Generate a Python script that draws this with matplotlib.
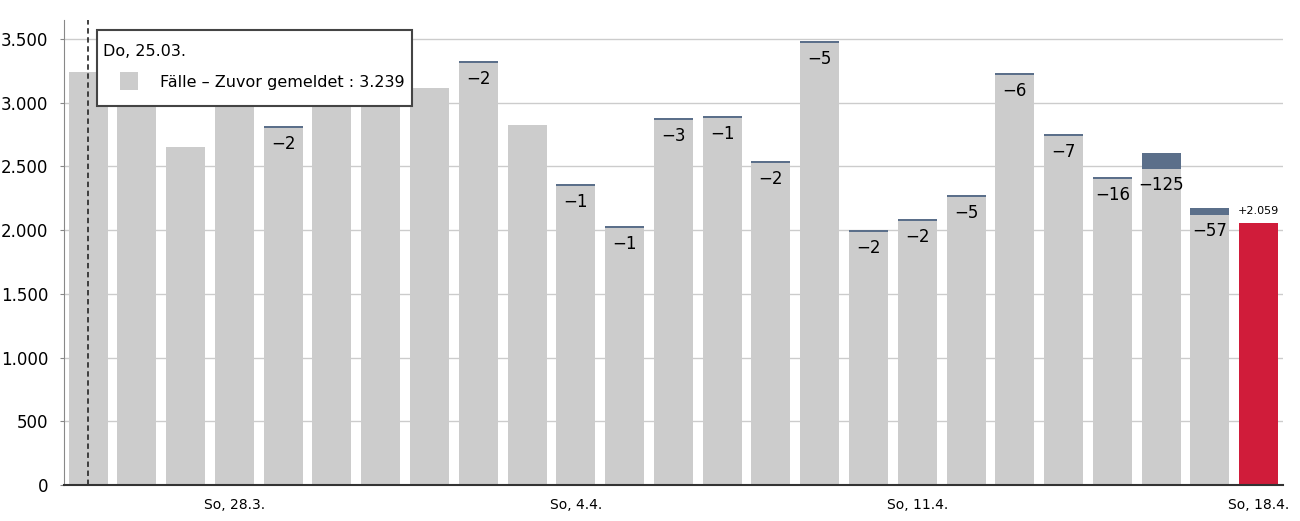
import matplotlib
matplotlib.use("Agg")
import matplotlib.pyplot as plt
from matplotlib.patches import Rectangle
import numpy as np

plt.rcParams['font.family'] = ['DejaVu Sans']

# current values (gray / red) and corrections (blue caps, negative)
dates = ['25.3.', '26.3.', '27.3.', '28.3.', '29.3.', '30.3.', '31.3.', '1.4.', '2.4.',
         '3.4.', '4.4.', '5.4.', '6.4.', '7.4.', '8.4.', '9.4.', '10.4.', '11.4.',
         '12.4.', '13.4.', '14.4.', '15.4.', '16.4.', '17.4.', '18.4.']
values = [3239, 3235, 2653, 3050, 2802, 3100, 3100, 3116, 3312, 2826, 2347, 2017, 2865,
          2880, 2527, 3469, 1986, 2072, 2260, 3218, 2740, 2402, 2480, 2119, 2059]
diffs = [0, 0, 0, 0, -2, 0, 0, 0, -2, 0, -1, -1, -3, -1, -2, -5, -2, -2, -5, -6, -7,
         -16, -125, -57, 0]
tick_idx = [3, 10, 17, 24]
tick_labels = ['So, 28.3.', 'So, 4.4.', 'So, 11.4.', 'So, 18.4.']

gray = '#cccccc'
blue = '#5b6f8a'
red = '#d01c3a'

fig = plt.figure(figsize=(13, 5.21), dpi=100)
ax = fig.add_axes([0.049, 0.069, 0.938, 0.893])

x = np.arange(len(values))
colors = [gray] * (len(values) - 1) + [red]
ax.bar(x, values, width=0.8, color=colors, zorder=2)

# blue caps for corrections (min visible height)
caps = [max(-d, 16) if d != 0 else 0 for d in diffs]
ax.bar(x, caps, bottom=values, width=0.8, color=blue, zorder=2)

for i, d in enumerate(diffs):
    if d != 0:
        ax.annotate('\u2212' + str(-d), (i, values[i]), xytext=(0, -5),
                    textcoords='offset points', ha='center', va='top',
                    fontsize=12, zorder=3)

ax.annotate('+' + f'{values[-1]:,}'.replace(',', '.'), (x[-1], values[-1]),
            xytext=(0, 5), textcoords='offset points', ha='center', va='bottom',
            fontsize=8, zorder=3)

ax.set_xlim(-0.5, len(values) - 0.5)
ax.set_ylim(0, 3650)
yt = np.arange(0, 3501, 500)
ax.set_yticks(yt)
ax.set_yticklabels([f'{v:,}'.replace(',', '.') for v in yt], fontsize=12)
ax.set_xticks(tick_idx)
ax.set_xticklabels(tick_labels, fontsize=10)
ax.tick_params(axis='x', length=0, pad=9)
ax.tick_params(axis='y', length=3, color='#888888', pad=8)

ax.grid(axis='y', color='#cccccc', linewidth=1, zorder=0)
for s in ['top', 'right']:
    ax.spines[s].set_visible(False)
ax.spines['left'].set_color('#888888')
ax.spines['bottom'].set_color('#333333')
ax.spines['bottom'].set_linewidth(1.5)

# hover line and tooltip
ax.axvline(0, color='#333333', linestyle=(0, (3, 2)), linewidth=1.3, zorder=4)

W, H = 1300, 521
fig.patches.append(Rectangle((97 / W, 1 - 106 / H), 315 / W, 76 / H,
                             transform=fig.transFigure, facecolor='white',
                             edgecolor='#444444', linewidth=1.5, zorder=6))
fig.patches.append(Rectangle((120 / W, 1 - 90 / H), 18 / W, 18 / H,
                             transform=fig.transFigure, facecolor=gray,
                             edgecolor='none', zorder=7))
fig.text(103 / W, 1 - 52 / H, 'Do, 25.03.', fontsize=11.5, va='center', ha='left',
         zorder=8)
fig.text(160 / W, 1 - 82 / H, 'Fälle \u2013 Zuvor gemeldet : 3.239', fontsize=11.5,
         va='center', ha='left', zorder=8)

fig.savefig('out.png', dpi=100)
